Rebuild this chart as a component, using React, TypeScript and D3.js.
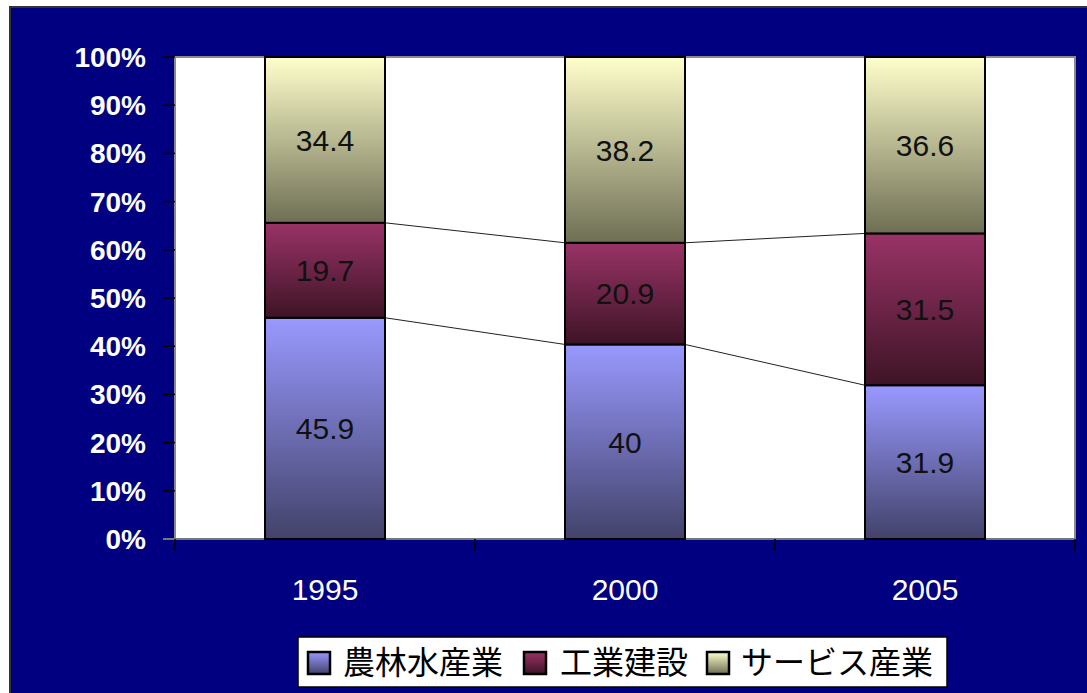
import React from "react";
import * as d3 from "d3";

const years = ["1995", "2000", "2005"];
const seriesNames = ["農林水産業", "工業建設", "サービス産業"];
const agriculture = [45.9, 40, 31.9];
const industry = [19.7, 20.9, 31.5];
const services = [34.4, 38.2, 36.6];
const yTicks = [0, 10, 20, 30, 40, 50, 60, 70, 80, 90, 100];

const W = 1087;
const H = 693;
const plot = { left: 175, top: 57, right: 1075, bottom: 539 };

const gradients = [
  { id: "gAgri", top: "#9999ff", bottom: "#42426a" },
  { id: "gInd", top: "#993366", bottom: "#3e1426" },
  { id: "gSvc", top: "#ffffcc", bottom: "#6e6e54" },
];

export default function App() {
  const x = d3
    .scaleBand<string>()
    .domain(years)
    .range([plot.left, plot.right])
    .paddingInner(0.6)
    .paddingOuter(0.3);
  const y = d3.scaleLinear().domain([0, 100]).range([plot.bottom, plot.top]);

  const rows = years.map((yr, i) => {
    const total = agriculture[i] + industry[i] + services[i];
    return {
      year: yr,
      agri: (agriculture[i] / total) * 100,
      ind: (industry[i] / total) * 100,
      svc: (services[i] / total) * 100,
      raw: [agriculture[i], industry[i], services[i]],
    };
  });
  const stack = d3.stack<any>().keys(["agri", "ind", "svc"])(rows);
  const bw = x.bandwidth();
  const outer = d3.scaleBand<string>().domain(years).range([plot.left, plot.right]);

  const fontAxis = "'Liberation Sans', Arial, sans-serif";
  const fontCjk = "'Noto Sans CJK JP', 'Noto Sans', sans-serif";

  // legend layout
  const legendItems = [
    { sw: 308, tx: 343 },
    { sw: 524, tx: 560 },
    { sw: 707, tx: 741 },
  ];

  return (
    <svg
      width={W}
      height={H}
      style={{ position: "absolute", left: 0, top: 0, display: "block" }}
    >
      <defs>
        {gradients.map((g) => (
          <linearGradient key={g.id} id={g.id} x1="0" y1="0" x2="0" y2="1">
            <stop offset="0" stopColor={g.top} />
            <stop offset="1" stopColor={g.bottom} />
          </linearGradient>
        ))}
      </defs>
      <rect x={0} y={0} width={W} height={H} fill="#ffffff" />
      <rect x={10} y={7} width={W} height={H} fill="#000080" stroke="#333333" strokeWidth={2} />

      {/* plot area */}
      <rect
        x={plot.left}
        y={plot.top}
        width={plot.right - plot.left}
        height={plot.bottom - plot.top}
        fill="#ffffff"
        stroke="#8a8a8a"
        strokeWidth={2}
      />

      {/* y axis ticks and labels */}
      {yTicks.map((t) => (
        <g key={t}>
          <line x1={163} x2={plot.left} y1={y(t)} y2={y(t)} stroke="#000" strokeWidth={1.5} />
          <text
            x={146}
            y={y(t)}
            dy="0.36em"
            textAnchor="end"
            fill="#ffffff"
            fontFamily={fontAxis}
            fontWeight="bold"
            fontSize={28}
          >
            {t}%
          </text>
        </g>
      ))}

      {/* x axis */}
      <line x1={163} x2={plot.right} y1={plot.bottom} y2={plot.bottom} stroke="#777" strokeWidth={2} />
      {[...years.map((yr) => outer(yr) as number), plot.right].map((xv, i) => (
        <line key={i} x1={xv} x2={xv} y1={plot.bottom} y2={plot.bottom + 12} stroke="#000" strokeWidth={1.5} />
      ))}
      {years.map((yr) => (
        <text
          key={yr}
          x={(x(yr) as number) + bw / 2}
          y={589}
          dy="0.36em"
          textAnchor="middle"
          fill="#ffffff"
          fontFamily={fontAxis}
          fontSize={30}
        >
          {yr}
        </text>
      ))}

      {/* series lines */}
      {stack.slice(0, 2).map((s, si) =>
        s.slice(0, -1).map((d, i) => {
          const next = s[i + 1];
          return (
            <line
              key={`${si}-${i}`}
              x1={(x(years[i]) as number) + bw}
              y1={y(d[1])}
              x2={x(years[i + 1]) as number}
              y2={y(next[1])}
              stroke="#222"
              strokeWidth={1}
            />
          );
        })
      )}

      {/* bars */}
      {stack.map((s, si) =>
        s.map((d, i) => (
          <rect
            key={`${si}-${i}`}
            x={x(years[i]) as number}
            y={y(d[1])}
            width={bw}
            height={y(d[0]) - y(d[1])}
            fill={`url(#${gradients[si].id})`}
            stroke="#000"
            strokeWidth={2}
          />
        ))
      )}

      {/* data labels */}
      {stack.map((s, si) =>
        s.map((d, i) => (
          <text
            key={`${si}-${i}`}
            x={(x(years[i]) as number) + bw / 2}
            y={(y(d[0]) + y(d[1])) / 2}
            dy="0.36em"
            textAnchor="middle"
            fill="#111111"
            fontFamily={fontAxis}
            fontSize={30}
          >
            {String(rows[i].raw[si])}
          </text>
        ))
      )}

      {/* legend */}
      <rect x={298} y={637} width={649} height={50} fill="#ffffff" stroke="#000" strokeWidth={1.5} />
      {seriesNames.map((n, i) => (
        <g key={n}>
          <rect
            x={legendItems[i].sw}
            y={652}
            width={22}
            height={22}
            fill={`url(#${gradients[i].id})`}
            stroke="#000"
            strokeWidth={2.5}
          />
          <text
            x={legendItems[i].tx}
            y={663}
            dy="0.35em"
            fill="#000"
            fontFamily={fontCjk}
            fontSize={32}
          >
            {n}
          </text>
        </g>
      ))}
    </svg>
  );
}
